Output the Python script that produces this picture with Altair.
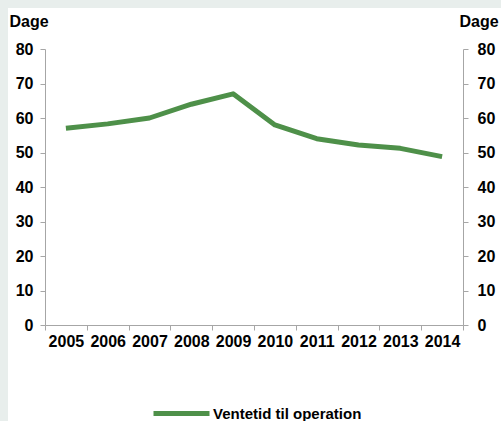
import altair as alt
import pandas as pd

years = ["2005", "2006", "2007", "2008", "2009", "2010", "2011", "2012", "2013", "2014"]
values = [57.0, 58.3, 60.0, 64.0, 67.0, 58.0, 54.0, 52.2, 51.2, 48.8]
series_name = "Ventetid til operation"
y_ticks = [0, 10, 20, 30, 40, 50, 60, 70, 80]

df = pd.DataFrame({"year": years, "value": values, "series": [series_name] * len(years)})

FONT = "Liberation Sans"
GREEN = "#4e9049"
AXIS_GREY = "#a6a6a6"
W, H = 418, 276

x_enc = alt.X(
    "year:O",
    scale=alt.Scale(type="band", paddingInner=0, paddingOuter=0),
    bandPosition=0.5,
    axis=alt.Axis(
        title=None, tickBand="extent", labelAngle=0, labelFont=FONT, labelFontSize=16,
        labelFontWeight="bold", labelColor="black", domainColor=AXIS_GREY, tickColor=AXIS_GREY,
        tickSize=5, labelPadding=3, grid=False, zindex=1,
    ),
)

def y_axis(orient, title_x, pad):
    return alt.Axis(
        orient=orient, values=y_ticks, title="Dage", titleAngle=0, titleAlign="left",
        titleBaseline="alphabetic", titleX=title_x, titleY=-23, titleFont=FONT,
        titleFontSize=16, titleFontWeight="bold", titleColor="black",
        labelFont=FONT, labelFontSize=16, labelFontWeight="bold", labelColor="black",
        domainColor=AXIS_GREY, tickColor=AXIS_GREY, tickSize=5, labelPadding=pad, grid=False,
        zindex=1,
    )

bg = alt.Chart(pd.DataFrame({"a": [0]})).mark_rect(color="white").encode(
    x=alt.value(-37), x2=alt.value(W + 38), y=alt.value(-41), y2=alt.value(H + 96)
)

line = alt.Chart(df).mark_line(strokeWidth=5, strokeJoin="round").encode(
    x=x_enc,
    y=alt.Y("value:Q", scale=alt.Scale(domain=[0, 80]), axis=y_axis("left", -36, 7)),
    color=alt.Color(
        "series:N",
        scale=alt.Scale(range=[GREEN]),
        legend=alt.Legend(
            title=None, orient="none", legendX=106, legendY=334, symbolType="stroke",
            symbolSize=3136, symbolStrokeWidth=5, labelFont=FONT, labelFontSize=15,
            labelFontWeight="bold", labelColor="black", labelOffset=1, zindex=1,
        ),
    ),
)

line_right = alt.Chart(df).mark_line(opacity=0).encode(
    x=x_enc,
    y=alt.Y("value:Q", scale=alt.Scale(domain=[0, 80]), axis=y_axis("right", -4, 9)),
)

chart = (
    alt.layer(bg, line, line_right)
    .resolve_scale(y="independent")
    .properties(
        width=W, height=H,
        autosize=alt.AutoSizeParams(type="none"),
        padding={"left": 45, "top": 49, "right": 38, "bottom": 96},
        background="#e8eeec",
    )
    .configure_view(stroke=None)
)

chart.save("out.html", embed_options={"renderer": "svg", "actions": False})
